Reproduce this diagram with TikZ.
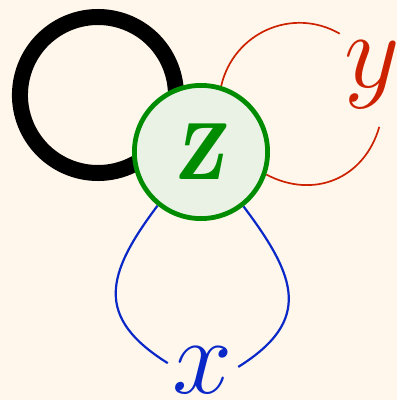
\RequirePackage{fix-cm}
\documentclass[tikz,border=0pt]{standalone}
\usepackage{graphicx}
\definecolor{bgcream}{HTML}{FFF7EB}
\definecolor{zgreen}{HTML}{008C00}
\definecolor{zfill}{HTML}{E9F2E5}
\definecolor{yred}{HTML}{CC2200}
\definecolor{xblue}{HTML}{0A28C8}
\pgfdeclarelayer{bglayer}
\pgfdeclarelayer{edgelayer}
\pgfsetlayers{bglayer,edgelayer,main}
\begin{document}
\begin{tikzpicture}[x=1pt,y=1pt,
  znode/.style={circle, draw=zgreen, fill=zfill, line width=4.8pt,
    minimum size=133.2pt, inner sep=0pt, text=zgreen,
    font=\fontsize{108}{108}\selectfont\bfseries\slshape},
  labnode/.style={inner sep=5pt, font=\fontsize{108}{108}\selectfont},
  blackloop/.style={draw=black, line width=16pt},
  redline/.style={draw=yred, line width=1.7pt},
  blueline/.style={draw=xblue, line width=2.2pt}]
\useasboundingbox (0,0) rectangle (397,400);
\begin{pgfonlayer}{bglayer}
\fill[bgcream] (0,0) rectangle (397,400);
\end{pgfonlayer}
\node[znode] (z) at (201,248) {\scalebox{0.88}[1.16]{z}};
\node[labnode, circle, inner sep=6pt, text=yred] (y) at (372,325) {$y$};
\node[labnode, text=xblue] (x) at (203,30) {$x$};
\begin{pgfonlayer}{edgelayer}
\draw[blackloop] ([shift={(-27.7,36.8)}]z.center) arc[start angle=-15, end angle=305, radius=78];
\draw[redline] (z.73) to[out=77, in=150, looseness=1.08] (y.128);
\draw[redline] (y.-82) to[out=-106, in=-28, looseness=1.12] (z.-19);
\draw[blueline] (z.231.5) to[out=233, in=148, looseness=1.4] (x.169);
\draw[blueline] (x.5) to[out=32, in=307, looseness=1.4] (z.308);
\end{pgfonlayer}
\end{tikzpicture}
\end{document}
